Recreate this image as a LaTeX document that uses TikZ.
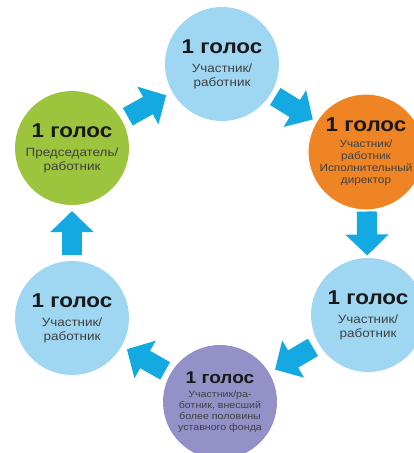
\documentclass[tikz,border=0pt]{standalone}
\usepackage{fontspec}
\setmainfont{Liberation Sans}[FakeStretch=1.12]
\usetikzlibrary{arrows.meta,calc}
\definecolor{celeste}{HTML}{9FD6F1}
\definecolor{verde}{HTML}{9CC43C}
\definecolor{naranja}{HTML}{EF8424}
\definecolor{lila}{HTML}{9491C9}
\definecolor{flecha}{HTML}{14A9E1}
\definecolor{textogris}{HTML}{404040}
\newcommand{\zag}{\fontsize{20}{20}\selectfont\bfseries\color{black!90}}
\begin{document}
\begin{tikzpicture}[x=1pt,y=-1pt,
    golos/.style={circle,minimum size=114pt,inner sep=0pt,align=center,
      text=textogris,font=\fontsize{12}{14}\selectfont},
    strelka/.style={draw=flecha,line width=20pt,
      -{Triangle[length=21pt,width=42pt]}}]
  \useasboundingbox (0,0) rectangle (413,453);
  % Участник сверху
  \node[golos,fill=celeste] (verkh) at (222,64) {\zag 1 голос\\[5pt]Участник/\\работник};
  % Председатель
  \node[golos,fill=verde] (predsed) at (72,148) {\zag 1 голос\\[5pt]Председатель/\\работник};
  % Исполнительный директор
  \node[golos,fill=naranja,font=\fontsize{10.5}{12}\selectfont] (direktor) at (366,152)
    {\zag 1 голос\\[4pt]Участник/\\работник\\Исполнительный\\директор};
  % Участник справа
  \node[golos,fill=celeste] (pravyi) at (368,315) {\zag 1 голос\\[5pt]Участник/\\работник};
  % Участник, внесший более половины фонда
  \node[golos,fill=lila,font=\fontsize{9.5}{11}\selectfont] (vkladchik) at (220,402)
    {{\fontsize{17}{17}\selectfont\bfseries\color{black!90}1 голос}\\[3pt]Участник/ра-\\ботник, внесший\\более половины\\уставного фонда};
  % Участник слева
  \node[golos,fill=celeste] (levyi) at (72,318) {\zag 1 голос\\[5pt]Участник/\\работник};

  % Стрелки по кругу
  \draw[strelka] ($(predsed)!0.5!(verkh)!-22pt!(verkh)$) -- ($(predsed)!0.5!(verkh)!22pt!(verkh)$);
  \draw[strelka] ($(verkh)!0.5!(direktor)!-22pt!(direktor)$) -- ($(verkh)!0.5!(direktor)!22pt!(direktor)$);
  \draw[strelka] ($(direktor)!0.5!(pravyi)!-22pt!(pravyi)$) -- ($(direktor)!0.5!(pravyi)!22pt!(pravyi)$);
  \draw[strelka] ($(pravyi)!0.5!(vkladchik)!-22pt!(vkladchik)$) -- ($(pravyi)!0.5!(vkladchik)!22pt!(vkladchik)$);
  \draw[strelka] ($(vkladchik)!0.5!(levyi)!-22pt!(levyi)$) -- ($(vkladchik)!0.5!(levyi)!22pt!(levyi)$);
  \draw[strelka] ($(levyi)!0.5!(predsed)!-22pt!(predsed)$) -- ($(levyi)!0.5!(predsed)!22pt!(predsed)$);
\end{tikzpicture}
\end{document}
